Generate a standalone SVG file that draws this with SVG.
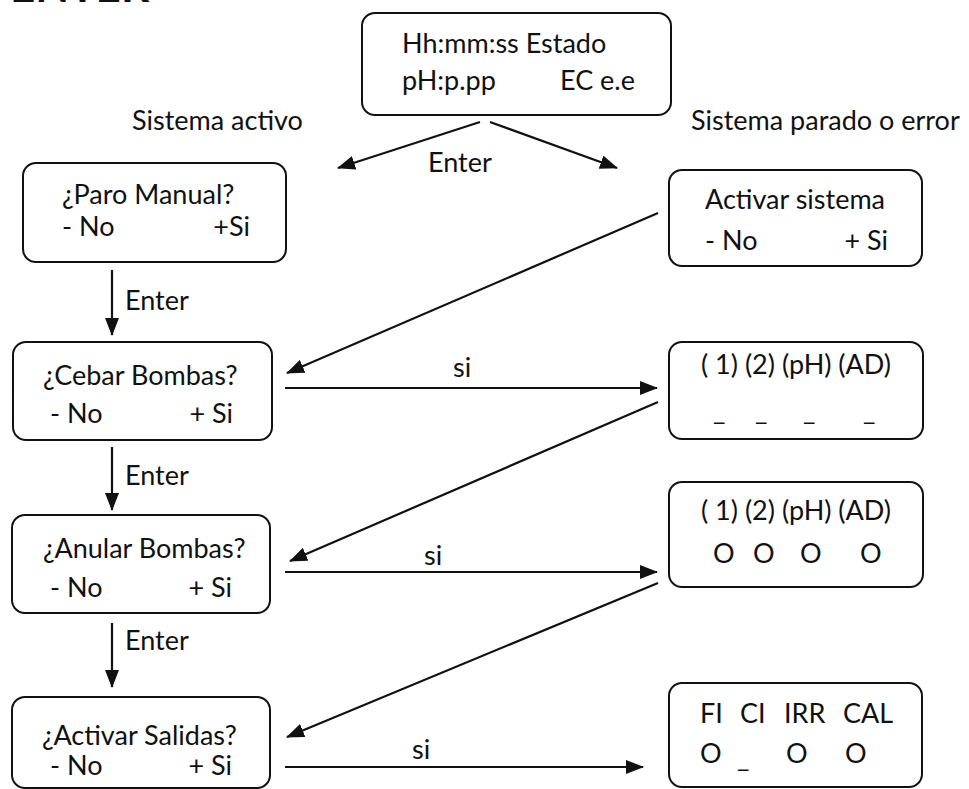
<svg xmlns="http://www.w3.org/2000/svg" width="969" height="789" viewBox="0 0 969 789">
  <style>
    text { font-family: Lato, "Open Sans", sans-serif; font-size: 27px; fill: #111; }
    .box { fill: #fff; stroke: #111; stroke-width: 2; }
    .wire { fill: none; stroke: #111; stroke-width: 2.2; marker-end: url(#head); }
    .end { text-anchor: end; }
  </style>
  <defs>
    <marker id="head" viewBox="0 0 18 14" refX="17" refY="7" markerWidth="18" markerHeight="14" markerUnits="userSpaceOnUse" orient="auto">
      <path d="M0,0 L18,7 L0,14 Z" fill="#111"/>
    </marker>
  </defs>

  <rect width="969" height="789" fill="#fff"/>

  <text x="10" y="2" style="font-weight:bold;font-size:44px">ENTER</text>

  <g id="estado">
    <rect class="box" x="362" y="13" width="309" height="102" rx="13"/>
    <text x="402" y="53">Hh:mm:ss Estado</text>
    <text x="402" y="90">pH:p.pp</text>
    <text class="end" x="635" y="90">EC e.e</text>
  </g>

  <text x="132" y="130">Sistema activo</text>
  <text x="691" y="130">Sistema parado o error</text>

  <g id="paro-manual">
    <rect class="box" x="23" y="163" width="263" height="99" rx="13"/>
    <text x="62" y="204">¿Paro Manual?</text>
    <text x="62" y="236">- No</text>
    <text class="end" x="250" y="236">+Si</text>
  </g>

  <g id="activar-sistema">
    <rect class="box" x="669" y="170" width="253" height="96" rx="13"/>
    <text x="705" y="209">Activar sistema</text>
    <text x="705" y="250">- No</text>
    <text class="end" x="888" y="250">+ Si</text>
  </g>

  <g id="cebar-bombas">
    <rect class="box" x="13" y="342" width="259" height="98" rx="13"/>
    <text x="43" y="385">¿Cebar Bombas?</text>
    <text x="50" y="423">- No</text>
    <text class="end" x="233" y="423">+ Si</text>
  </g>

  <g id="cebado">
    <rect class="box" x="669" y="342" width="254" height="97" rx="13"/>
    <text x="701" y="374">( 1) (2) (pH) (AD)</text>
    <text x="713" y="420">_</text>
    <text x="755" y="420">_</text>
    <text x="803" y="420">_</text>
    <text x="863" y="420">_</text>
  </g>

  <g id="anular-bombas">
    <rect class="box" x="12" y="515" width="258" height="98" rx="13"/>
    <text x="43" y="558">¿Anular Bombas?</text>
    <text x="50" y="597">- No</text>
    <text class="end" x="232" y="597">+ Si</text>
  </g>

  <g id="anulado">
    <rect class="box" x="669" y="482" width="254" height="105" rx="13"/>
    <text x="701" y="520">( 1) (2) (pH) (AD)</text>
    <text x="713" y="563">O</text>
    <text x="753" y="563">O</text>
    <text x="800" y="563">O</text>
    <text x="860" y="563">O</text>
  </g>

  <g id="activar-salidas">
    <rect class="box" x="12" y="697" width="258" height="91" rx="13"/>
    <text x="42" y="745">¿Activar Salidas?</text>
    <text x="50" y="775">- No</text>
    <text class="end" x="232" y="775">+ Si</text>
  </g>

  <g id="salidas">
    <rect class="box" x="669" y="683" width="253" height="104" rx="13"/>
    <text x="700" y="723">FI</text>
    <text x="740" y="723">CI</text>
    <text x="784" y="723">IRR</text>
    <text x="843" y="723">CAL</text>
    <text x="700" y="763">O</text>
    <text x="737" y="767">_</text>
    <text x="786" y="763">O</text>
    <text x="845" y="763">O</text>
  </g>

  <g id="connectors">
    <line class="wire" x1="480" y1="122" x2="338" y2="168"/>
    <line class="wire" x1="490" y1="122" x2="617" y2="168"/>
    <text x="428" y="172">Enter</text>

    <line class="wire" x1="112" y1="270" x2="112" y2="335"/>
    <text x="125" y="310">Enter</text>
    <line class="wire" x1="112" y1="447" x2="112" y2="510"/>
    <text x="125" y="485">Enter</text>
    <line class="wire" x1="112" y1="623" x2="112" y2="687"/>
    <text x="125" y="650">Enter</text>

    <line class="wire" x1="658" y1="213" x2="287" y2="373"/>
    <line class="wire" x1="658" y1="402" x2="290" y2="561"/>
    <line class="wire" x1="658" y1="583" x2="287" y2="737"/>

    <line class="wire" x1="285" y1="388" x2="657" y2="388"/>
    <text x="453" y="377">si</text>
    <line class="wire" x1="285" y1="572" x2="657" y2="572"/>
    <text x="424" y="565">si</text>
    <line class="wire" x1="285" y1="767" x2="643" y2="767"/>
    <text x="412" y="759">si</text>
  </g>
</svg>
